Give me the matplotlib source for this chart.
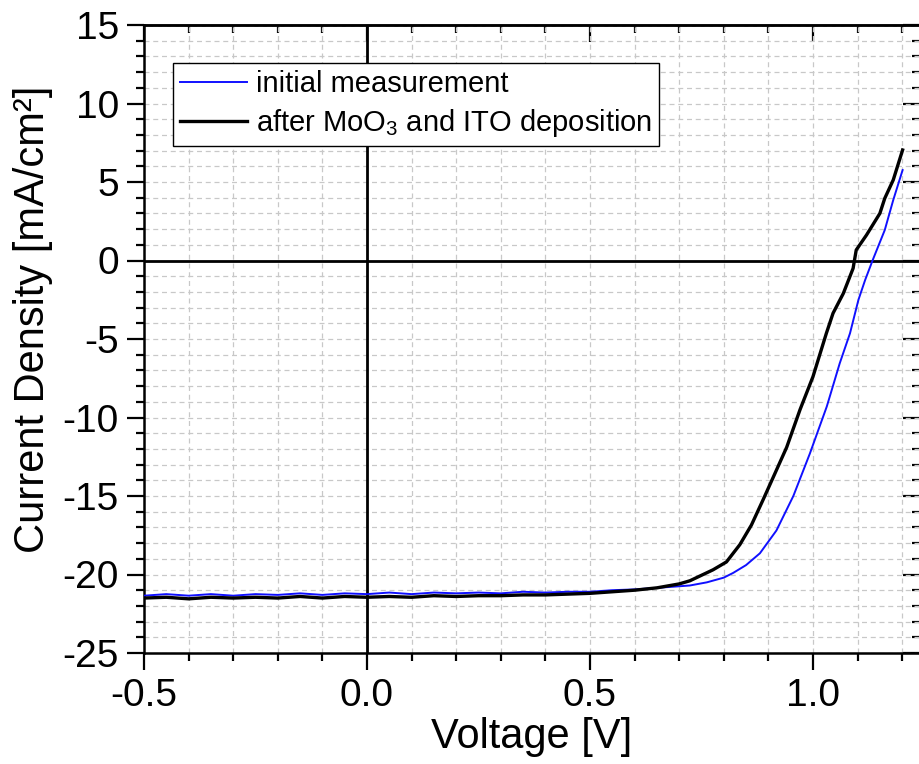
import matplotlib
matplotlib.use("Agg")
import matplotlib.pyplot as plt
from matplotlib.ticker import MultipleLocator

plt.rcParams['font.family'] = ['Liberation Sans', 'DejaVu Sans']
plt.rcParams['mathtext.fontset'] = 'custom'
plt.rcParams['mathtext.rm'] = 'Liberation Sans'
plt.rcParams['mathtext.it'] = 'Liberation Sans'

# J-V data
v_initial = [-0.5, -0.45, -0.4, -0.35, -0.3, -0.25, -0.2, -0.15, -0.1, -0.05,
             0.0, 0.05, 0.1, 0.15, 0.2, 0.25, 0.3, 0.35, 0.4, 0.45, 0.5, 0.55,
             0.6, 0.65, 0.7, 0.724, 0.762, 0.8, 0.821, 0.85, 0.881, 0.918,
             0.956, 0.993, 1.031, 1.06, 1.083, 1.102, 1.117, 1.134, 1.161,
             1.18, 1.201]
j_initial = [-21.35, -21.25, -21.35, -21.25, -21.35, -21.25, -21.3, -21.2,
             -21.3, -21.2, -21.25, -21.15, -21.25, -21.15, -21.2, -21.15,
             -21.2, -21.1, -21.15, -21.1, -21.1, -21.0, -20.95, -20.85,
             -20.75, -20.7, -20.5, -20.2, -19.9, -19.4, -18.65, -17.2, -15.0,
             -12.3, -9.3, -6.55, -4.64, -2.5, -1.24, 0.03, 1.94, 3.85, 5.76]

v_after = [-0.5, -0.45, -0.4, -0.35, -0.3, -0.25, -0.2, -0.15, -0.1, -0.05,
           0.0, 0.05, 0.1, 0.15, 0.2, 0.25, 0.3, 0.35, 0.4, 0.45, 0.5, 0.55,
           0.6, 0.65, 0.7, 0.724, 0.776, 0.806, 0.836, 0.862, 0.888, 0.911,
           0.941, 0.971, 1.0, 1.03, 1.045, 1.068, 1.09, 1.097, 1.12, 1.15,
           1.161, 1.18, 1.201]
j_after = [-21.5, -21.45, -21.55, -21.45, -21.5, -21.45, -21.5, -21.4, -21.5,
           -21.4, -21.45, -21.4, -21.45, -21.35, -21.4, -21.35, -21.35, -21.3,
           -21.3, -21.25, -21.2, -21.1, -21.0, -20.85, -20.6, -20.4, -19.7,
           -19.2, -18.1, -16.85, -15.25, -13.8, -11.9, -9.5, -7.4, -4.64,
           -3.36, -2.1, -0.5, 0.67, 1.62, 3.0, 3.96, 5.13, 7.04]

fig = plt.figure(figsize=(9.2, 7.64), dpi=100)
ax = fig.add_axes([144 / 920, 111 / 764, 776 / 920, 628 / 764])

ax.axhline(0, color='black', lw=2, zorder=2)
ax.axvline(0, color='black', lw=2, zorder=2)
ax.plot(v_initial, j_initial, color='#1010ff', lw=1.4, zorder=3,
        label='initial measurement')
ax.plot(v_after, j_after, color='black', lw=2.4, zorder=4,
        label='after MoO$_3$ and ITO deposition')

ax.set_xlim(-0.5, 1.24)
ax.set_ylim(-25, 15)
ax.xaxis.set_major_locator(MultipleLocator(0.5))
ax.xaxis.set_minor_locator(MultipleLocator(0.1))
ax.yaxis.set_major_locator(MultipleLocator(5))
ax.yaxis.set_minor_locator(MultipleLocator(1))
ax.set_xticks([-0.5, 0.0, 0.5, 1.0])
ax.set_xticklabels(['-0.5', '0.0', '0.5', '1.0'])
ax.set_yticks([-25, -20, -15, -10, -5, 0, 5, 10, 15])
ax.set_yticklabels(['-25', '-20', '-15', '-10', '-5', '0', '5', '10', '15'])

ax.grid(True, which='both', color='#c8c8c8', ls=(0, (4, 3)), lw=0.9)
ax.set_axisbelow(True)

ax.tick_params(which='major', direction='out', length=12, width=1.6,
               labelsize=28, pad=6)
ax.tick_params(which='minor', direction='out', length=6, width=1.6)
for s in ['left', 'bottom', 'top']:
    ax.spines[s].set_linewidth(1.8)
ax.spines['right'].set_visible(False)

# mirrored ticks pointing inward on top and right
top = ax.secondary_xaxis('top')
top.xaxis.set_major_locator(MultipleLocator(0.5))
top.xaxis.set_minor_locator(MultipleLocator(0.1))
top.tick_params(which='major', direction='in', length=12, width=1.6,
                labeltop=False)
top.tick_params(which='minor', direction='in', length=6, width=1.6)
top.spines['top'].set_linewidth(1.8)
right = ax.secondary_yaxis('right')
right.yaxis.set_major_locator(MultipleLocator(5))
right.yaxis.set_minor_locator(MultipleLocator(1))
right.tick_params(which='major', direction='in', length=12, width=1.6,
                  labelright=False)
right.tick_params(which='minor', direction='in', length=6, width=1.6)
right.spines['right'].set_visible(False)

ax.set_xlabel('Voltage [V]', fontsize=30, labelpad=2)
ax.set_ylabel('Current Density [mA/cm²]', fontsize=30)
ax.yaxis.set_label_coords(-0.117, 0.532)

leg = ax.legend(loc='upper left', bbox_to_anchor=(0.037, 0.9395),
                borderaxespad=0, fontsize=21, fancybox=False, framealpha=1,
                edgecolor='black', handlelength=2.3, handletextpad=0.3,
                labelspacing=0.3, borderpad=0.25)
leg.get_frame().set_linewidth(1.0)

fig.savefig('out.png', dpi=100)
